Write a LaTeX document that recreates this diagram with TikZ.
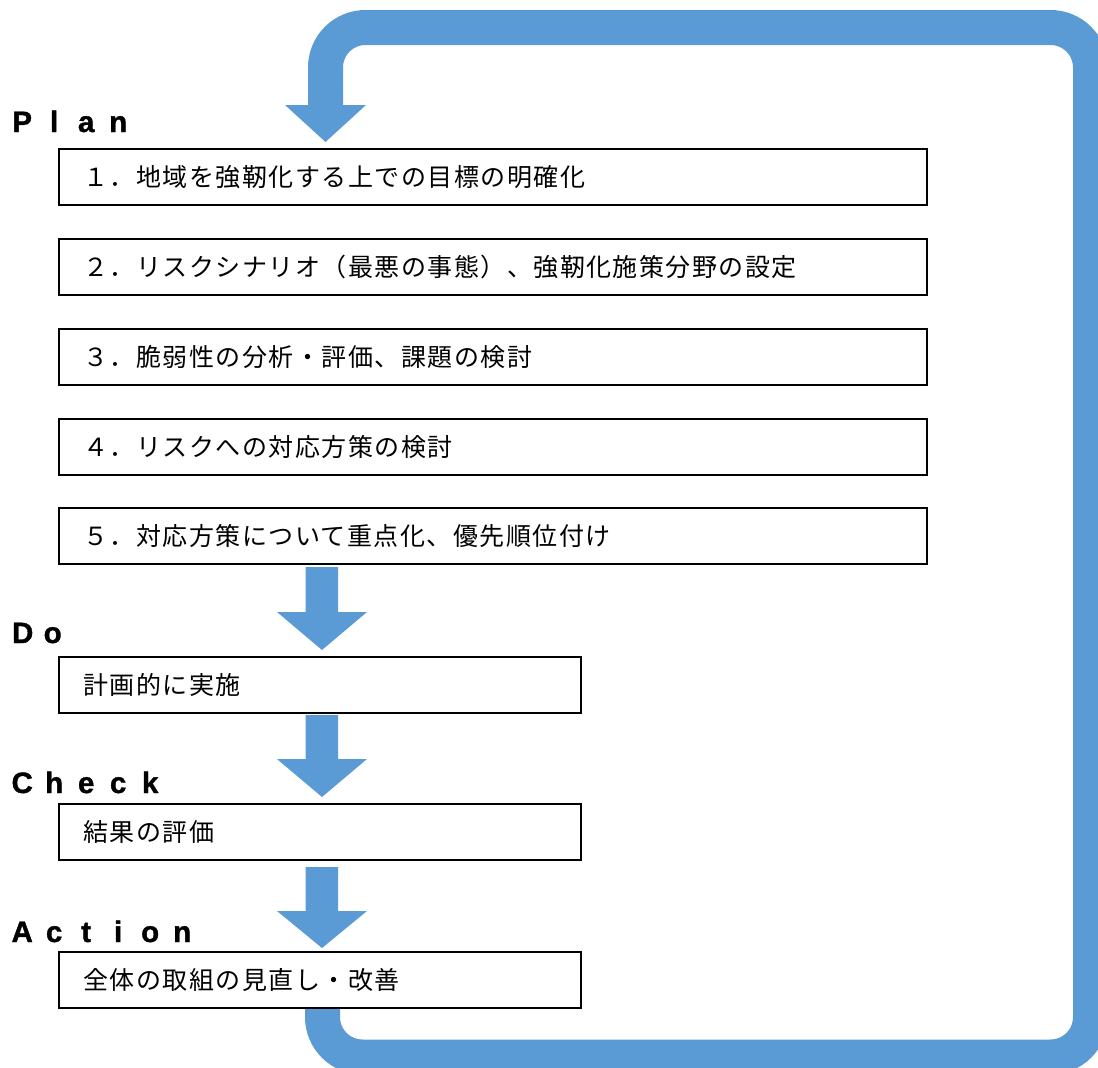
\documentclass[tikz,border=0pt]{standalone}
\usepackage{fontspec}
\newfontfamily\jpfont[LetterSpace=6]{Noto Sans CJK JP}
\newfontfamily\latnfont[FakeBold=1.2]{Liberation Sans Bold}
\definecolor{pdcablue}{HTML}{5B9BD5}
\newcommand\lcell[1]{\makebox[32pt][c]{#1}}
\newcommand\blockdown[3]{\fill[pdcablue] (305.5,#1) -- (338,#1) -- (338,#2) -- (367,#2) -- (322,#3) -- (277,#2) -- (305.5,#2) -- cycle;}
\begin{document}
\begin{tikzpicture}[x=1pt,y=-1pt,
  box/.style={draw=black, line width=2pt, fill=white, anchor=north west,
    minimum height=56pt, inner xsep=24pt, inner ysep=0pt,
    text width=#1, align=left, font=\jpfont\fontsize{25}{30}\selectfont},
  lbl/.style={anchor=base west, inner sep=0pt,
    font=\latnfont\fontsize{29.5}{33}\selectfont},
  band/.style={draw=pdcablue, line width=35pt, rounded corners=40pt}]
\useasboundingbox (0,0) rectangle (1098,1068);
\clip (0,0) rectangle (1098,1068);
% feedback loop
\coordinate (loopstart) at (322.5,990);
\coordinate (loopend) at (325.5,105.5);
\draw[band] (loopstart) -- (322.5,1057) -- (1090.5,1057) -- (1090.5,27.5) -- (325.5,27.5) -- (loopend);
\fill[pdcablue] (285,105) -- (366,105) -- (325.5,142) -- cycle;
% down arrows
\blockdown{567}{612}{650}
\blockdown{715}{759}{797}
\blockdown{867}{911}{948}
% labels
\node[lbl] (plan) at (6,132) {\lcell{P}\lcell{l}\lcell{a}\lcell{n}};
\node[lbl] (do) at (7,643) {\makebox[31pt][c]{D}\makebox[29pt][c]{o}};
\node[lbl] (check) at (6,793) {\lcell{C}\lcell{h}\lcell{e}\lcell{c}\lcell{k}};
\node[lbl] (action) at (6,942) {\lcell{A}\lcell{c}\lcell{t}\lcell{i}\lcell{o}\lcell{n}};
% boxes
\node[box=820pt] (p1) at (58,148) {１．地域を強靭化する上での目標の明確化};
\node[box=820pt] (p2) at (58,238) {２．リスクシナリオ（最悪の事態）、強靭化施策分野の設定};
\node[box=820pt] (p3) at (58,328) {３．脆弱性の分析・評価、課題の検討};
\node[box=820pt] (p4) at (58,418) {４．リスクへの対応方策の検討};
\node[box=820pt] (p5) at (58,507) {５．対応方策について重点化、優先順位付け};
\node[box=474pt] (d1) at (58,656) {計画的に実施};
\node[box=474pt] (c1) at (58,803) {結果の評価};
\node[box=474pt] (a1) at (58,951) {全体の取組の見直し・改善};
\end{tikzpicture}
\end{document}
